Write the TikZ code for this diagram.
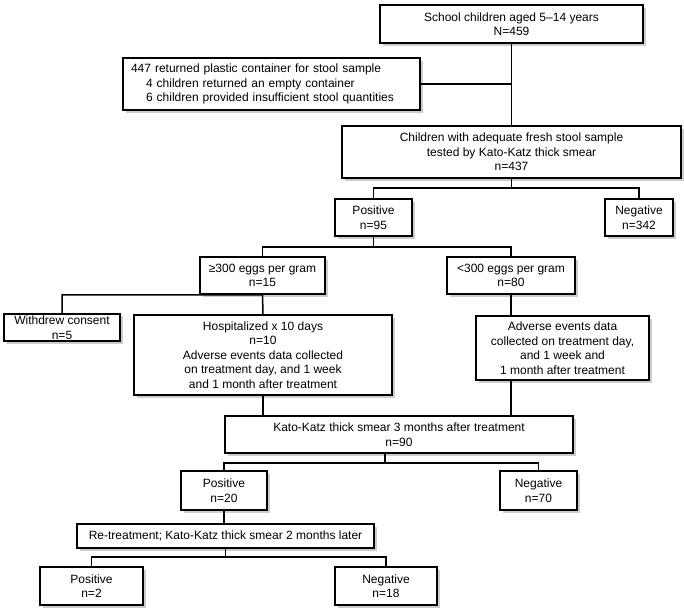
\documentclass[tikz,border=0pt]{standalone}
\usepackage{fontspec}
\setmainfont{Liberation Sans}
\usetikzlibrary{shadows}

\begin{document}
\begin{tikzpicture}[
        x=1pt, y=-1pt,
        bx/.style={draw, line width=1.5pt, fill=white, align=center, inner sep=2pt,
          font=\fontsize{12}{14.5}\selectfont,
          drop shadow={shadow xshift=2.5pt, shadow yshift=-2.5pt, fill=black!40}},
        ed/.style={line width=1.5pt}
      ]
      \useasboundingbox (0,0) rectangle (684,613);
      % screening
      \node[bx, minimum width=263pt, minimum height=38pt] (all) at (511.5,24)
        {School children aged 5–14 years\\N=459};
      \node[bx, align=left, text width=281pt, inner xsep=8pt, minimum height=52pt] (ret) at (271.5,84)
        {447 returned plastic container for stool sample\\
         \hspace*{15pt}4 children returned an empty container\\
         \hspace*{15pt}6 children provided insufficient stool quantities};
      \node[bx, minimum width=339pt, minimum height=52pt] (adeq) at (511.5,152)
        {Children with adequate fresh stool sample\\tested by Kato-Katz thick smear\\n=437};
      \node[bx, minimum width=77pt, minimum height=37pt] (pos1) at (373.5,217.5) {Positive\\n=95};
      \node[bx, minimum width=68pt, minimum height=37pt] (neg1) at (639,217.5) {Negative\\n=342};
      % intensity
      \node[bx, minimum width=125pt, minimum height=37pt] (hi) at (262.5,275.5) {≥300 eggs per gram\\n=15};
      \node[bx, minimum width=128pt, minimum height=37pt] (lo) at (511,275.5) {<300 eggs per gram\\n=80};
      \node[bx, minimum width=116pt, minimum height=25pt] (wd) at (62,327.5) {Withdrew consent\\n=5};
      \node[bx, minimum width=258pt, minimum height=80pt] (hosp) at (263,355)
        {Hospitalized x 10 days\\n=10\\Adverse events data collected\\on treatment day, and 1 week\\and 1 month after treatment};
      \node[bx, minimum width=173pt, minimum height=64pt] (adv) at (562.5,348)
        {Adverse events data\\collected on treatment day,\\and 1 week and\\1 month after treatment};
      % follow-up
      \node[bx, minimum width=348pt, minimum height=37pt] (kk) at (399,434.5)
        {Kato-Katz thick smear 3 months after treatment\\n=90};
      \node[bx, minimum width=86pt, minimum height=39pt] (pos2) at (224,490.5) {Positive\\n=20};
      \node[bx, minimum width=77pt, minimum height=39pt] (neg2) at (538.5,490.5) {Negative\\n=70};
      \node[bx, minimum width=297pt, minimum height=24pt] (retr) at (225.5,536)
        {Re-treatment; Kato-Katz thick smear 2 months later};
      \node[bx, minimum width=103pt, minimum height=38pt] (pos3) at (91.5,586) {Positive\\n=2};
      \node[bx, minimum width=102pt, minimum height=38pt] (neg3) at (386,586) {Negative\\n=18};

      \coordinate (j1) at (511.5,188);
      \coordinate (j2) at (373.5,247);
      \coordinate (j3) at (385,463);
      \coordinate (j4) at (225.5,557);

      \draw[ed] (all.south) -- (adeq.north);
      \draw[ed] (ret.east) -- (ret.east -| all.south);
      \draw[ed] (adeq.south) -- (j1) -| (pos1.north);
      \draw[ed] (j1) -| (neg1.north);
      \draw[ed] (pos1.south) -- (j2) -| (hi.north);
      \draw[ed] (j2) -| (lo.north);
      \draw[ed] (wd.north) |- (hi.south) -- (hosp.north);
      \draw[ed] (lo.south) -- (lo.south |- adv.north);
      \draw[ed] (hosp.south) -- (hosp.south |- kk.north);
      \draw[ed] (lo.south |- adv.south) -- (lo.south |- kk.north);
      \draw[ed] (j3 |- kk.south) -- (j3) -| (pos2.north);
      \draw[ed] (j3) -| (neg2.north);
      \draw[ed] (pos2.south) -- (pos2.south |- retr.north);
      \draw[ed] (retr.south) -- (j4) -| (pos3.north);
      \draw[ed] (j4) -| (neg3.north);
    \end{tikzpicture}
\end{document}
